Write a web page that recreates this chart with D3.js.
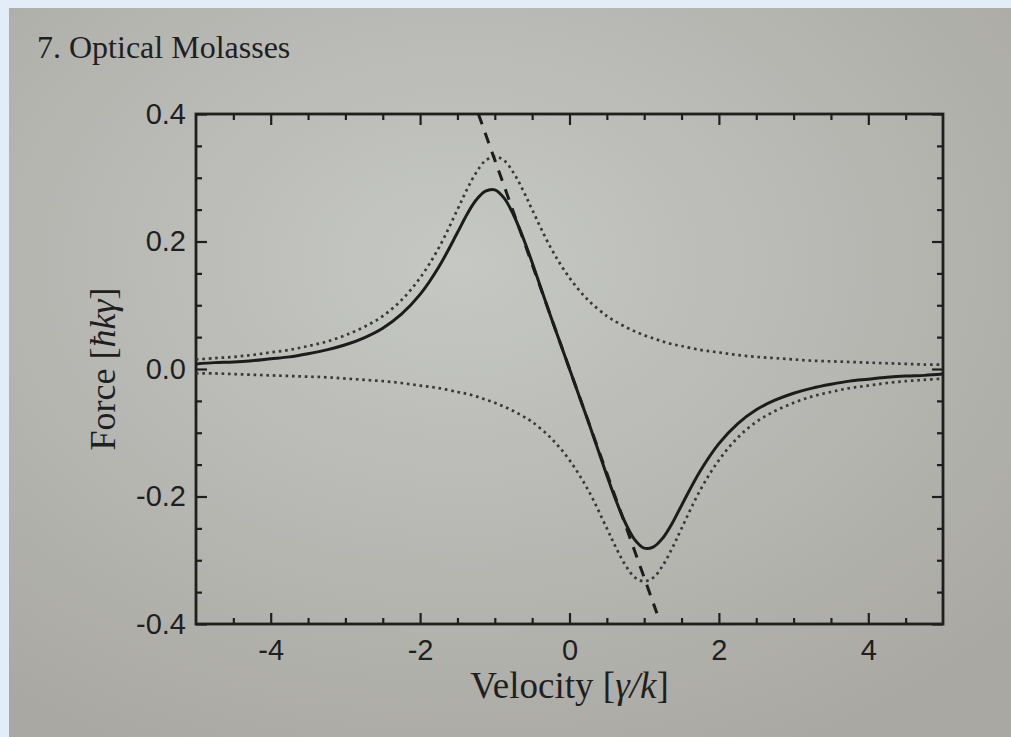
<!DOCTYPE html>
<html lang="en">
<head>
<meta charset="UTF-8">
<title>Optical Molasses</title>
<style>
  body { margin: 0; background: #e2edf8; }
  svg { display: block; }
</style>
</head>
<body>
<script src="https://d3js.org/d3.v7.min.js"></script>
<script>
  const width = 1011, height = 737;
  const margin = { top: 114, left: 196, bottom: 113, right: 68 };

  // velocity grid [gamma/k]
  const velocity = [-5, -4.75, -4.5, -4.25, -4, -3.75, -3.5, -3.25, -3, -2.75, -2.5, -2.25, -2, -1.75, -1.5, -1.375, -1.25, -1.125, -1,
    -0.875, -0.75, -0.625, -0.5, -0.25, 0, 0.25, 0.5, 0.625, 0.75, 0.875, 1, 1.125, 1.25, 1.375, 1.5,
    1.75, 2, 2.25, 2.5, 2.75, 3, 3.25, 3.5, 3.75, 4, 4.25, 4.5, 4.75, 5];
  // force of each beam (dotted) and their sum (solid) [hbar k gamma]
  const forcePlus = [0.015, 0.017, 0.019, 0.022, 0.026, 0.030, 0.036, 0.043, 0.053, 0.066, 0.083, 0.108, 0.143, 0.190, 0.250, 0.281, 0.308, 0.327, 0.333,
    0.327, 0.308, 0.281, 0.250, 0.190, 0.143, 0.108, 0.083, 0.074, 0.066, 0.059, 0.053, 0.048, 0.043, 0.039, 0.036,
    0.030, 0.026, 0.022, 0.019, 0.017, 0.015, 0.013, 0.012, 0.011, 0.010, 0.009, 0.008, 0.007, 0.007];
  const forceMinus = [-0.007, -0.007, -0.008, -0.009, -0.010, -0.011, -0.012, -0.013, -0.015, -0.017, -0.019, -0.022, -0.026, -0.030, -0.036, -0.039, -0.043, -0.048, -0.053,
    -0.059, -0.066, -0.074, -0.083, -0.108, -0.143, -0.190, -0.250, -0.281, -0.308, -0.327, -0.333, -0.327, -0.308, -0.281, -0.250,
    -0.190, -0.143, -0.108, -0.083, -0.066, -0.053, -0.043, -0.036, -0.030, -0.026, -0.022, -0.019, -0.017, -0.015];
  const forceTotal = [0.008, 0.010, 0.011, 0.013, 0.016, 0.019, 0.024, 0.030, 0.038, 0.049, 0.064, 0.086, 0.117, 0.160, 0.214, 0.242, 0.265, 0.279, 0.281,
    0.268, 0.242, 0.207, 0.167, 0.082, 0.000, -0.082, -0.167, -0.207, -0.242, -0.268, -0.281, -0.279, -0.265, -0.242, -0.214,
    -0.160, -0.117, -0.086, -0.064, -0.049, -0.038, -0.030, -0.024, -0.019, -0.016, -0.013, -0.011, -0.010, -0.008];
  // pure damping line (dashed)
  const dampV = [-1.22, 1.17];
  const dampF = [0.400, -0.383];

  const xTicks = [-4, -2, 0, 2, 4];
  const xMinor = [-4.5, -3.5, -3, -2.5, -1.5, -1, -0.5, 0.5, 1, 1.5, 2.5, 3, 3.5, 4.5];
  const yTicks = [-0.4, -0.2, 0, 0.2, 0.4];
  const yMinor = [-0.35, -0.3, -0.25, -0.15, -0.1, -0.05, 0.05, 0.1, 0.15, 0.25, 0.3, 0.35];

  const ink = '#1f1f1f';

  const svg = d3.select('body').append('svg').attr('width', width).attr('height', height);

  // page of the book
  const defs = svg.append('defs');
  const grad = defs.append('radialGradient').attr('id', 'paper')
    .attr('cx', '45%').attr('cy', '35%').attr('r', '75%');
  grad.append('stop').attr('offset', '0%').attr('stop-color', '#c6c8c4');
  grad.append('stop').attr('offset', '100%').attr('stop-color', '#a9a8a3');
  svg.append('rect').attr('x', 9).attr('y', 8).attr('width', width - 9).attr('height', height - 8)
    .attr('fill', 'url(#paper)');

  svg.append('text')
    .attr('x', 37).attr('y', 58)
    .attr('font-family', '"Liberation Serif", "Times New Roman", serif')
    .attr('font-size', 32)
    .attr('fill', ink)
    .text('7.  Optical Molasses');

  // scales
  const x = d3.scaleLinear().domain([-5, 5]).range([margin.left, width - margin.right]);
  const y = d3.scaleLinear().domain([-0.4, 0.4]).range([height - margin.bottom, margin.top]);

  const plot = svg.append('g');

  // axes, ticks pointing inward on all four sides
  const tickFont = '"Liberation Sans", Arial, Helvetica, sans-serif';
  function styleAxis(g) {
    g.select('.domain').remove();
    g.selectAll('line').attr('stroke', ink).attr('stroke-width', 2.2);
    g.selectAll('text').attr('font-family', tickFont).attr('font-size', 29).attr('fill', ink);
  }
  const fmt = d => d3.format('.1f')(d).replace('−', '-');

  plot.append('g').attr('transform', `translate(0,${y(-0.4)})`)
    .call(d3.axisBottom(x).tickValues(xTicks).tickSize(-11).tickPadding(15).tickFormat(d => String(d)))
    .call(styleAxis);
  plot.append('g').attr('transform', `translate(0,${y(-0.4)})`)
    .call(d3.axisBottom(x).tickValues(xMinor).tickSize(-6).tickFormat(''))
    .call(styleAxis);
  plot.append('g').attr('transform', `translate(0,${y(0.4)})`)
    .call(d3.axisTop(x).tickValues(xTicks).tickSize(-11).tickFormat(''))
    .call(styleAxis);
  plot.append('g').attr('transform', `translate(0,${y(0.4)})`)
    .call(d3.axisTop(x).tickValues(xMinor).tickSize(-6).tickFormat(''))
    .call(styleAxis);

  plot.append('g').attr('transform', `translate(${x(-5)},0)`)
    .call(d3.axisLeft(y).tickValues(yTicks).tickSize(-11).tickPadding(10).tickFormat(fmt))
    .call(styleAxis);
  plot.append('g').attr('transform', `translate(${x(-5)},0)`)
    .call(d3.axisLeft(y).tickValues(yMinor).tickSize(-6).tickFormat(''))
    .call(styleAxis);
  plot.append('g').attr('transform', `translate(${x(5)},0)`)
    .call(d3.axisRight(y).tickValues(yTicks).tickSize(-11).tickFormat(''))
    .call(styleAxis);
  plot.append('g').attr('transform', `translate(${x(5)},0)`)
    .call(d3.axisRight(y).tickValues(yMinor).tickSize(-6).tickFormat(''))
    .call(styleAxis);

  // frame
  plot.append('rect')
    .attr('x', x(-5)).attr('y', y(0.4))
    .attr('width', x(5) - x(-5)).attr('height', y(-0.4) - y(0.4))
    .attr('fill', 'none').attr('stroke', ink).attr('stroke-width', 2.8);

  // curves
  const line = d3.line()
    .x(i => x(velocity[i]))
    .curve(d3.curveCatmullRom.alpha(0.5));
  const idx = velocity.map((d, i) => i);

  plot.append('path')
    .attr('d', line.y(i => y(forcePlus[i]))(idx))
    .attr('fill', 'none').attr('stroke', '#383838').attr('stroke-width', 2.7)
    .attr('stroke-dasharray', '2.6,3.8');
  plot.append('path')
    .attr('d', line.y(i => y(forceMinus[i]))(idx))
    .attr('fill', 'none').attr('stroke', '#383838').attr('stroke-width', 2.7)
    .attr('stroke-dasharray', '2.6,3.8');
  plot.append('path')
    .attr('d', line.y(i => y(forceTotal[i]))(idx))
    .attr('fill', 'none').attr('stroke', '#1c1c1c').attr('stroke-width', 3);

  plot.append('path')
    .attr('d', d3.line().x(i => x(dampV[i])).y(i => y(dampF[i]))([0, 1]))
    .attr('fill', 'none').attr('stroke', '#1c1c1c').attr('stroke-width', 3)
    .attr('stroke-dasharray', '11,9');

  // axis titles
  const serif = '"Liberation Serif", "Times New Roman", serif';
  const xt = svg.append('text')
    .attr('x', x(0)).attr('y', 698)
    .attr('text-anchor', 'middle')
    .attr('font-family', serif).attr('font-size', 37).attr('fill', ink);
  xt.append('tspan').text('Velocity [');
  xt.append('tspan').attr('font-style', 'italic').text('γ/k');
  xt.append('tspan').text(']');

  const yt = svg.append('text')
    .attr('transform', `translate(115,${y(0)}) rotate(-90)`)
    .attr('text-anchor', 'middle')
    .attr('font-family', serif).attr('font-size', 36).attr('fill', ink);
  yt.append('tspan').text('Force [');
  yt.append('tspan').attr('font-style', 'italic').text('ħkγ');
  yt.append('tspan').text(']');
</script>
</body>
</html>
